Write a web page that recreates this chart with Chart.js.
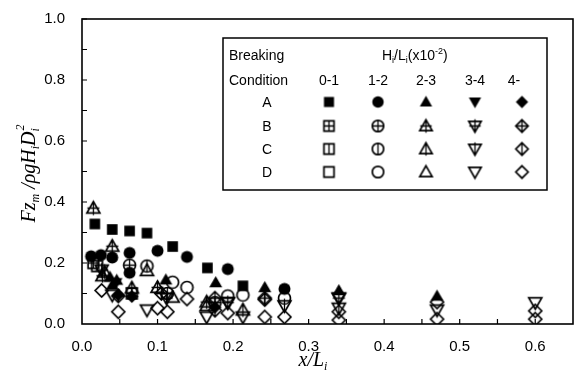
<!DOCTYPE html>
<html>
<head>
<meta charset="utf-8">
<script src="https://cdn.jsdelivr.net/npm/chart.js@4"></script>
<style>
  body { margin: 0; background: #fff; }
  #wrap { width: 581px; height: 374px; }
</style>
</head>
<body>
<div id="wrap"><canvas id="myChart"></canvas></div>
<script>
// ranges of H_i/L_i (x10^-2) and breaking conditions
const ranges = ['0-1', '1-2', '2-3', '3-4', '4-']
const conditions = ['A', 'B', 'C', 'D']
const shapes = ['square', 'circle', 'triangle', 'invtriangle', 'diamond']

const xTicks = [0, 0.1, 0.2, 0.3, 0.4, 0.5, 0.6]
const yTicks = [0, 0.2, 0.4, 0.6, 0.8, 1.0]

// condition A (filled)
const a01 = [[0.017,0.328],[0.04,0.31],[0.063,0.305],[0.086,0.298],[0.12,0.254],[0.166,0.184],[0.213,0.125]]
const a12 = [[0.012,0.222],[0.025,0.226],[0.04,0.218],[0.063,0.233],[0.063,0.168],[0.1,0.24],[0.139,0.22],[0.193,0.18],[0.268,0.115]]
const a23 = [[0.037,0.154],[0.046,0.144],[0.04,0.128],[0.111,0.145],[0.177,0.136],[0.242,0.12],[0.34,0.11],[0.47,0.092]]
const a34 = [[0.045,0.135]]
const a4 = [[0.048,0.095],[0.066,0.09],[0.176,0.055]]
// condition B (cross)
const b01 = [[0.015,0.2],[0.066,0.1]]
const b12 = [[0.063,0.193],[0.113,0.1],[0.176,0.07]]
const b23 = [[0.015,0.38],[0.04,0.255],[0.027,0.158],[0.066,0.118],[0.1,0.12],[0.165,0.072]]
const b34 = [[0.026,0.177],[0.112,0.085],[0.193,0.07],[0.34,0.085]]
const b4 = [[0.048,0.092],[0.105,0.1],[0.176,0.085],[0.242,0.085]]
// condition C (vertical line)
const c01 = [[0.02,0.19]]
const c12 = [[0.086,0.19]]
const c23 = [[0.213,0.046],[0.03,0.17]]
const c34 = [[0.268,0.06],[0.34,0.052]]
const c4 = [[0.242,0.08],[0.176,0.045]]
// condition D (hollow)
const d01 = []
const d12 = [[0.12,0.137],[0.139,0.12],[0.193,0.092],[0.213,0.095],[0.268,0.085]]
const d23 = [[0.086,0.175],[0.12,0.088],[0.165,0.06]]
const d34 = [[0.04,0.095],[0.086,0.046],[0.165,0.023],[0.213,0.023],[0.193,0.07],[0.47,0.046],[0.6,0.07],[0.34,0.085]]
const d4 = [[0.026,0.11],[0.048,0.04],[0.1,0.052],[0.113,0.04],[0.139,0.082],[0.193,0.036],[0.242,0.023],[0.268,0.023],[0.34,0.04],[0.34,0.013],[0.47,0.072],[0.47,0.016],[0.6,0.043],[0.6,0.016]]

const series = {
    A: [a01, a12, a23, a34, a4],
    B: [b01, b12, b23, b34, b4],
    C: [c01, c12, c23, c34, c4],
    D: [d01, d12, d23, d34, d4]
}

function makeMarker(shape, cond, k) {
    const cv = document.createElement('canvas')
    cv.width = 19; cv.height = 19
    const g = cv.getContext('2d')
    const c = 9.5
    g.lineWidth = 1.7
    g.strokeStyle = '#000'
    g.fillStyle = '#000'
    g.beginPath()
    let top = c - 6*k, bot = c + 6*k, half = 6*k
    if (shape == 'square') {
        g.rect(c - 5.3*k, c - 5.3*k, 10.6*k, 10.6*k); top = c - 5.3*k; bot = c + 5.3*k; half = 5.3*k
    } else if (shape == 'circle') {
        g.arc(c, c, 6*k, 0, Math.PI * 2)
    } else if (shape == 'triangle') {
        g.moveTo(c, c - 6.5*k); g.lineTo(c + 6.5*k, c + 4.8*k); g.lineTo(c - 6.5*k, c + 4.8*k); g.closePath()
        top = c - 6.5*k; bot = c + 7*k
    } else if (shape == 'invtriangle') {
        g.moveTo(c, c + 6.5*k); g.lineTo(c + 6.5*k, c - 4.8*k); g.lineTo(c - 6.5*k, c - 4.8*k); g.closePath()
        top = c - 7*k; bot = c + 6.5*k
    } else {
        g.moveTo(c, c - 6.5*k); g.lineTo(c + 6.5*k, c); g.lineTo(c, c + 6.5*k); g.lineTo(c - 6.5*k, c); g.closePath()
        top = c - 6.5*k; bot = c + 6.5*k; half = 6.5*k
    }
    if (cond == 'A') {
        g.fill()
        return cv
    }
    g.stroke()
    if (cond == 'B' || cond == 'C') {
        g.beginPath()
        g.moveTo(c, top); g.lineTo(c, bot)
        if (cond == 'B') {
            g.moveTo(c - half, c); g.lineTo(c + half, c)
        }
        g.lineWidth = 1.3
        g.stroke()
    }
    return cv
}

const markers = {}
const legendMarkers = {}
conditions.forEach(cond => {
    markers[cond] = shapes.map(s => makeMarker(s, cond, 1))
    legendMarkers[cond] = shapes.map(s => makeMarker(s, cond, 0.95))
})

let datasets = []
conditions.forEach(cond => {
    series[cond].forEach((pts, i) => {
        datasets.push({
            label: cond + ' ' + ranges[i],
            data: pts.map(p => ({x: p[0], y: p[1]})),
            pointStyle: markers[cond][i],
            pointRadius: 7,
            showLine: false
        })
    })
})

function drawRich(ctx, parts, x, y) {
    // parts: [text, kind, font, shift] kind: n normal, b sub, p sup
    let cx = x
    parts.forEach(p => {
        ctx.font = p[2]
        let dy = 0
        if (p[1] == 'b') dy = p[3]
        if (p[1] == 'p') dy = -p[3]
        ctx.fillText(p[0], cx, y + dy)
        cx += ctx.measureText(p[0]).width
    })
    return cx - x
}
function richWidth(ctx, parts) {
    let w = 0
    parts.forEach(p => { ctx.font = p[2]; w += ctx.measureText(p[0]).width })
    return w
}

const framePlugin = {
    id: 'frame',
    afterDraw(chart) {
        const ctx = chart.ctx
        const a = chart.chartArea
        const xs = chart.scales.x, ys = chart.scales.y
        ctx.save()
        ctx.strokeStyle = '#000'
        ctx.lineWidth = 1.6
        ctx.strokeRect(a.left, a.top, a.right - a.left, a.bottom - a.top)
        ctx.lineWidth = 1.2
        ctx.beginPath()
        for (let v = 0.05; v < 0.65; v += 0.05) {
            const px = xs.getPixelForValue(v)
            ctx.moveTo(px, a.bottom); ctx.lineTo(px, a.bottom - 5)
        }
        for (let v = 0.1; v < 1.0; v += 0.1) {
            const py = ys.getPixelForValue(v)
            ctx.moveTo(a.left, py); ctx.lineTo(a.left + 5, py)
        }
        ctx.stroke()

        // axis titles
        ctx.fillStyle = '#000'
        ctx.textBaseline = 'alphabetic'
        const big = 'italic 20px "Liberation Serif"'
        const sm = 'italic 12px "Liberation Serif"'
        const xt = [['x/L', 'n', big], ['i', 'b', sm, 4]]
        const xw = richWidth(ctx, xt)
        drawRich(ctx, xt, 313 - xw / 2, 366)

        ctx.save()
        ctx.translate(35, 174)
        ctx.rotate(-Math.PI / 2)
        const yt = [['Fz', 'n', big], ['m', 'b', sm, 4], [' /\u03c1gH', 'n', big], ['i', 'b', sm, 4], ['D', 'n', big]]
        const yw = richWidth(ctx, yt) + 6
        const used = drawRich(ctx, yt, -yw / 2, 0)
        ctx.font = sm
        ctx.fillText('i', -yw / 2 + used, 4)
        ctx.fillText('2', -yw / 2 + used + 1, -11)
        ctx.restore()

        // legend table
        ctx.fillStyle = '#fff'
        ctx.fillRect(223, 38, 324, 152)
        ctx.lineWidth = 1.5
        ctx.strokeRect(223, 38, 324, 152)
        ctx.fillStyle = '#000'
        const f = '14px "Liberation Sans"'
        const fs = '9px "Liberation Sans"'
        ctx.font = f
        ctx.textAlign = 'left'
        ctx.fillText('Breaking', 229, 60)
        ctx.fillText('Condition', 229, 85)
        drawRich(ctx, [['H', 'n', f], ['i', 'b', fs, 3], ['/L', 'n', f], ['i', 'b', fs, 3], ['(x10', 'n', f], ['-2', 'p', fs, 6], [')', 'n', f]], 382, 60)
        ctx.textAlign = 'center'
        const colX = [329, 378, 426, 475, 522]
        const rowY = [102, 126, 149, 172]
        ctx.font = f
        ranges.forEach((r, i) => ctx.fillText(r, colX[i] + (i == 4 ? -8 : 0), 85))
        conditions.forEach((cond, j) => {
            ctx.font = f
            ctx.fillText(cond, 267, rowY[j] + 5)
            legendMarkers[cond].forEach((m, i) => {
                ctx.drawImage(m, colX[i] - m.width / 2, rowY[j] - m.height / 2)
            })
        })
        ctx.restore()
    }
}

const ctx = document.getElementById('myChart').getContext('2d')
const myChart = new Chart(ctx, {
    type: 'scatter',
    data: { datasets: datasets },
    options: {
        responsive: true,
        maintainAspectRatio: false,
        animation: false,
        layout: { padding: { left: 0, right: 6, top: 19, bottom: 0 } },
        plugins: { legend: { display: false }, tooltip: { enabled: false } },
        scales: {
            x: {
                type: 'linear', min: 0, max: 0.65,
                afterBuildTicks: s => { s.ticks = xTicks.map(v => ({value: v})) },
                afterFit: s => { s.height = 50 },
                grid: { display: false },
                border: { display: false },
                ticks: {
                    color: '#000', padding: 6,
                    font: { family: 'Liberation Sans', size: 15 },
                    callback: v => v.toFixed(1)
                }
            },
            y: {
                type: 'linear', min: 0, max: 1.0,
                afterBuildTicks: s => { s.ticks = yTicks.map(v => ({value: v})) },
                afterFit: s => { s.width = 82 },
                grid: { display: false },
                border: { display: false },
                ticks: {
                    color: '#000', padding: 9,
                    font: { family: 'Liberation Sans', size: 15 },
                    callback: v => v.toFixed(1)
                }
            }
        }
    },
    plugins: [framePlugin]
})
</script>
</body>
</html>
